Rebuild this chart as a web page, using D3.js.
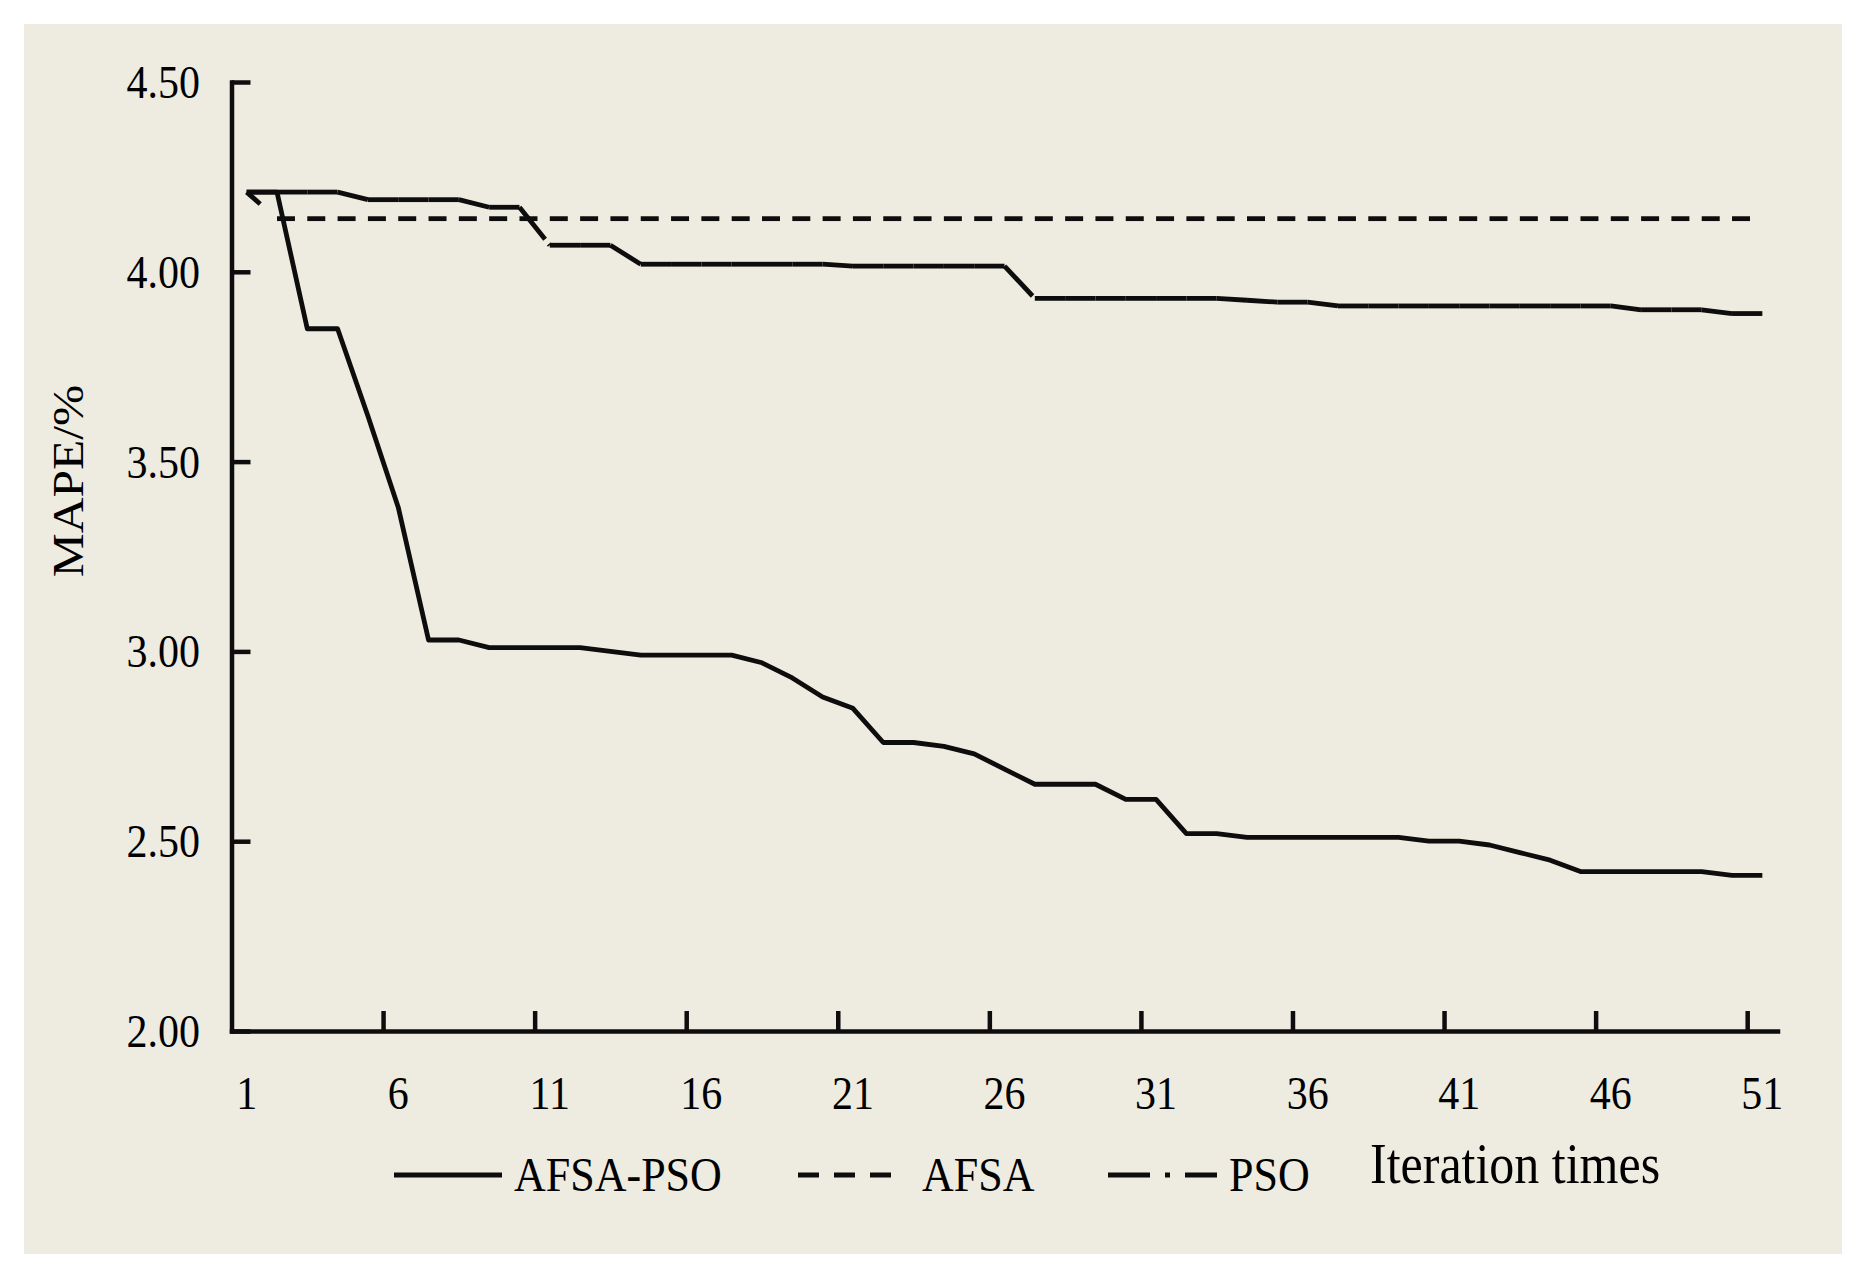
<!DOCTYPE html>
<html>
<head>
<meta charset="utf-8">
<script src="https://cdn.jsdelivr.net/npm/d3@7"></script>
<style>
  html, body { margin: 0; padding: 0; background: #ffffff; }
  svg { display: block; }
  text { font-family: "Liberation Serif", "Times New Roman", serif; fill: #000; }
</style>
</head>
<body>
<svg id="chart" width="1866" height="1279"></svg>
<script>
// ---------- data ----------
const iterations = [1,2,3,4,5,6,7,8,9,10,11,12,13,14,15,16,17,18,19,20,21,22,23,24,25,26,27,28,29,30,31,32,33,34,35,36,37,38,39,40,41,42,43,44,45,46,47,48,49,50,51];
const afsaPso = [4.21,4.21,3.85,3.85,3.62,3.38,3.03,3.03,3.01,3.01,3.01,3.01,3.00,2.99,2.99,2.99,2.99,2.97,2.93,2.88,2.85,2.76,2.76,2.75,2.73,2.69,2.65,2.65,2.65,2.61,2.61,2.52,2.52,2.51,2.51,2.51,2.51,2.51,2.51,2.50,2.50,2.49,2.47,2.45,2.42,2.42,2.42,2.42,2.42,2.41,2.41];
const afsa = [4.21,4.14,4.14,4.14,4.14,4.14,4.14,4.14,4.14,4.14,4.14,4.14,4.14,4.14,4.14,4.14,4.14,4.14,4.14,4.14,4.14,4.14,4.14,4.14,4.14,4.14,4.14,4.14,4.14,4.14,4.14,4.14,4.14,4.14,4.14,4.14,4.14,4.14,4.14,4.14,4.14,4.14,4.14,4.14,4.14,4.14,4.14,4.14,4.14,4.14,4.14];
const pso = [4.21,4.21,4.21,4.21,4.19,4.19,4.19,4.19,4.17,4.17,4.07,4.07,4.07,4.02,4.02,4.02,4.02,4.02,4.02,4.02,4.015,4.015,4.015,4.015,4.015,4.015,3.93,3.93,3.93,3.93,3.93,3.93,3.93,3.925,3.92,3.92,3.91,3.91,3.91,3.91,3.91,3.91,3.91,3.91,3.91,3.91,3.90,3.90,3.90,3.89,3.89];
const yTicks = [2.00, 2.50, 3.00, 3.50, 4.00, 4.50];
const xTickLabels = [1,6,11,16,21,26,31,36,41,46,51];
const xTickMarks = [5,10,15,20,25,30,35,40,45,50];
const seriesNames = ["AFSA-PSO", "AFSA", "PSO"];
const xTitle = "Iteration times";
const yTitle = "MAPE/%";

// ---------- layout ----------
const svg = d3.select("#chart");
const plotL = 231.5, plotR = 1777.5, plotT = 82, plotB = 1031;
const stretch = 1.1;
const ink = "#0d0d0d";

svg.append("rect").attr("x", 24).attr("y", 24).attr("width", 1818).attr("height", 1230).attr("fill", "#eeebe0");

const x = d3.scaleBand().domain(iterations).range([plotL, plotR]).paddingInner(0).paddingOuter(0);
const xEdge = d3.scaleLinear().domain([0, iterations.length]).range([plotL, plotR]);
const y = d3.scaleLinear().domain([2, 4.5]).range([plotB, plotT]);
const cx = d => x(d) + x.bandwidth() / 2;

// ---------- axes ----------
const yAxis = svg.append("g").attr("transform", `translate(${plotL},0)`)
  .call(d3.axisLeft(y).tickValues(yTicks).tickSizeInner(-19).tickSizeOuter(0).tickPadding(31.5).tickFormat(d3.format(".2f")));
const xAxis = svg.append("g").attr("transform", `translate(0,${plotB})`)
  .call(d3.axisBottom(xEdge).tickValues(xTickMarks).tickSizeInner(-20).tickSizeOuter(0).tickFormat(""));
const xLab = svg.append("g").attr("transform", `translate(0,${plotB})`)
  .call(d3.axisBottom(x).tickValues(xTickLabels).tickSize(0));
xLab.select(".domain").remove();

[yAxis, xAxis].forEach(g => {
  g.select(".domain").attr("stroke", ink).attr("stroke-width", 4.5).attr("stroke-linecap", "square");
  g.selectAll(".tick line").attr("stroke", ink).attr("stroke-width", 4.5);
});
yAxis.selectAll(".tick text")
  .attr("x", null).attr("dy", null)
  .attr("transform", `translate(-31.5,15.5) scale(1,${stretch})`)
  .attr("font-size", 42).attr("text-anchor", "end")
  .style("font-family", "'Liberation Serif', 'Times New Roman', serif").attr("fill", "#000");
xLab.selectAll(".tick text")
  .attr("y", null).attr("dy", null)
  .attr("transform", `translate(0,78) scale(1,${stretch})`)
  .attr("font-size", 42).attr("text-anchor", "middle")
  .style("font-family", "'Liberation Serif', 'Times New Roman', serif").attr("fill", "#000");

// ---------- series ----------
const line = d3.line().x(d => cx(d[0])).y(d => y(d[1]));
const pts = vals => iterations.map((it, i) => [it, vals[i]]);

// AFSA-PSO solid
svg.append("path").datum(pts(afsaPso)).attr("d", line)
  .attr("fill", "none").attr("stroke", ink).attr("stroke-width", 4.8).attr("stroke-linejoin", "round");

// PSO dash-dot, pattern restarting at each data point
svg.append("g").selectAll("path").data(d3.pairs(pts(pso))).join("path")
  .attr("d", d => line(d))
  .attr("fill", "none").attr("stroke", ink).attr("stroke-width", 4.8)
  .attr("stroke-dasharray", "41,6,4,40");

// AFSA dashed, pattern restarting at each data point
svg.append("g").selectAll("path").data(d3.pairs(pts(afsa))).join("path")
  .attr("d", d => line(d))
  .attr("fill", "none").attr("stroke", ink).attr("stroke-width", 4.8)
  .attr("stroke-dasharray", "18,60");

// ---------- titles ----------
svg.append("text").text(yTitle)
  .attr("transform", `translate(83,481) rotate(-90) scale(${stretch},1)`)
  .attr("text-anchor", "middle").attr("font-size", 45);
svg.append("text").text(xTitle)
  .attr("transform", `translate(1370,1183) scale(1,1.14)`)
  .attr("font-size", 50);

// ---------- legend ----------
const legend = [
  { name: seriesNames[0], x1: 394, x2: 502, tx: 514, dash: null },
  { name: seriesNames[1], x1: 798, x2: 893, tx: 922, dash: "21,15" },
  { name: seriesNames[2], x1: 1108, x2: 1217, tx: 1229, dash: "42,15,5,15" }
];
const lg = svg.append("g").selectAll("g").data(legend).join("g");
lg.append("line").attr("x1", d => d.x1).attr("x2", d => d.x2).attr("y1", 1175).attr("y2", 1175)
  .attr("stroke", ink).attr("stroke-width", 5).attr("stroke-dasharray", d => d.dash);
lg.append("text").text(d => d.name)
  .attr("transform", d => `translate(${d.tx},1191) scale(1,${stretch})`)
  .attr("font-size", 44);
</script>
</body>
</html>
